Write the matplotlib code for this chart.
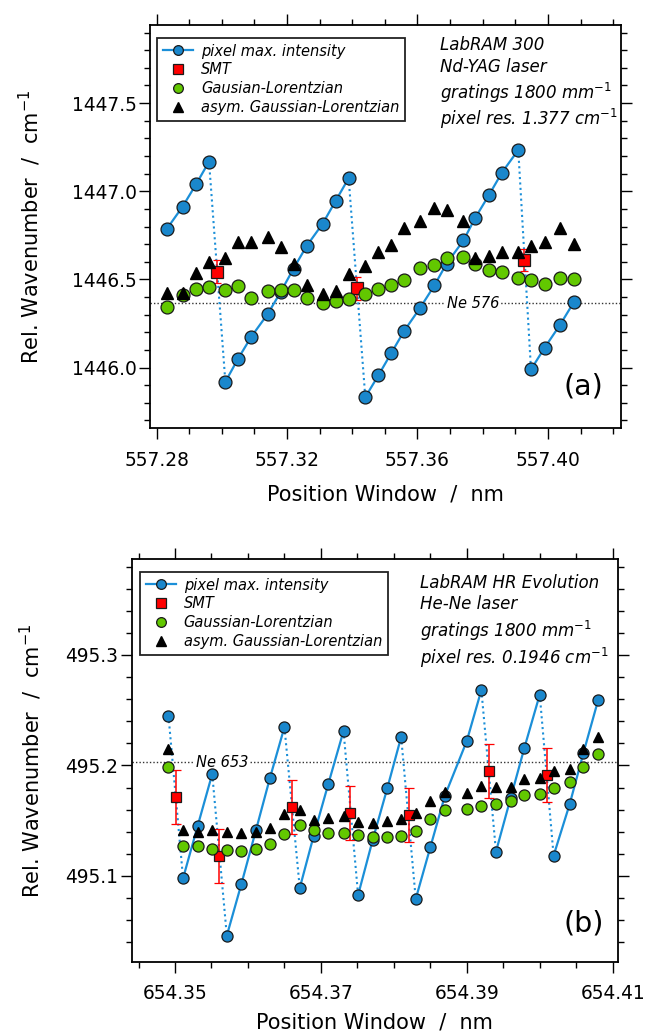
import numpy as np
import matplotlib
matplotlib.use('Agg')
import matplotlib.pyplot as plt
from matplotlib.lines import Line2D
from matplotlib.ticker import MultipleLocator, FixedLocator, FormatStrFormatter

# ---------------- panel (a): LabRAM 300, Nd-YAG ----------------
x_a = [557.2831, 557.2880, 557.2922, 557.2961, 557.3011, 557.3050, 557.3091, 557.3141,
       557.3181, 557.3220, 557.3260, 557.3309, 557.3349, 557.3389, 557.3440, 557.3480,
       557.3520, 557.3560, 557.3608, 557.3652, 557.3689, 557.3741, 557.3777, 557.3819,
       557.3859, 557.3909, 557.3948, 557.3990, 557.4037, 557.4079]
pix_a = [1446.785, 1446.913, 1447.042, 1447.168, 1445.919, 1446.050, 1446.176, 1446.304,
         1446.430, 1446.561, 1446.689, 1446.815, 1446.945, 1447.074, 1445.832, 1445.955,
         1446.083, 1446.210, 1446.338, 1446.466, 1446.589, 1446.721, 1446.849, 1446.978,
         1447.106, 1447.234, 1445.989, 1446.113, 1446.242, 1446.370]
gl_a = [1446.345, 1446.409, 1446.446, 1446.457, 1446.440, 1446.463, 1446.396, 1446.432,
        1446.438, 1446.440, 1446.392, 1446.364, 1446.379, 1446.387, 1446.419, 1446.447,
        1446.466, 1446.498, 1446.566, 1446.579, 1446.623, 1446.627, 1446.587, 1446.555,
        1446.540, 1446.510, 1446.498, 1446.474, 1446.510, 1446.504]
asym_a = [1446.421, 1446.423, 1446.536, 1446.598, 1446.619, 1446.712, 1446.712, 1446.743,
          1446.681, 1446.589, 1446.466, 1446.419, 1446.432, 1446.528, 1446.578, 1446.653,
          1446.695, 1446.794, 1446.834, 1446.906, 1446.894, 1446.832, 1446.621, 1446.630,
          1446.655, 1446.655, 1446.691, 1446.712, 1446.789, 1446.702]
smt_x_a = [557.2985, 557.3415, 557.3928]
smt_a = [1446.544, 1446.449, 1446.611]
smt_err_a = [0.065, 0.064, 0.063]
ne_a = 1446.364
ne_lab_x_a = 557.377
xticks_a = [557.28, 557.32, 557.36, 557.40]
text_a = ['LabRAM 300', 'Nd-YAG laser', r'gratings 1800 mm$^{\mathit{-1}}$',
          r'pixel res. 1.377 cm$^{\mathit{-1}}$']
legend_a = ['pixel max. intensity', 'SMT', 'Gausian-Lorentzian', 'asym. Gaussian-Lorentzian']

# ---------------- panel (b): LabRAM HR Evolution, He-Ne ----------------
x_b = [654.3491, 654.3511, 654.3531, 654.3551, 654.3571, 654.3591, 654.3611, 654.3630,
       654.3650, 654.3671, 654.3690, 654.3710, 654.3731, 654.3751, 654.3771, 654.3791,
       654.3810, 654.3830, 654.3850, 654.3870, 654.3900, 654.3920, 654.3940, 654.3960,
       654.3979, 654.4000, 654.4019, 654.4041, 654.4060, 654.4080]
pix_b = [495.2451, 495.0979, 495.1452, 495.1923, 495.0460, 495.0928, 495.1416, 495.1884,
         495.2348, 495.0891, 495.1362, 495.1830, 495.2312, 495.0828, 495.1326, 495.1794,
         495.2258, 495.0792, 495.1260, 495.1727, 495.2222, 495.2683, 495.1220, 495.1703,
         495.2161, 495.2641, 495.1184, 495.1649, 495.2116, 495.2590]
gl_b = [495.1984, 495.1274, 495.1269, 495.1247, 495.1235, 495.1226, 495.1247, 495.1290,
        495.1383, 495.1464, 495.1414, 495.1392, 495.1389, 495.1368, 495.1357, 495.1353,
        495.1365, 495.1407, 495.1513, 495.1597, 495.1606, 495.1636, 495.1649, 495.1681,
        495.1733, 495.1742, 495.1799, 495.1853, 495.1989, 495.2107]
asym_b = [495.2147, 495.1416, 495.1395, 495.1414, 495.1395, 495.1392, 495.1401, 495.1432,
          495.1558, 495.1597, 495.1510, 495.1528, 495.1543, 495.1491, 495.1482, 495.1500,
          495.1519, 495.1573, 495.1679, 495.1757, 495.1754, 495.1814, 495.1803, 495.1808,
          495.1881, 495.1890, 495.1953, 495.1968, 495.2152, 495.2255]
smt_x_b = [654.3501, 654.3560, 654.3661, 654.3740, 654.3821, 654.3931, 654.4010]
smt_b = [495.1718, 495.1184, 495.1622, 495.1567, 495.1552, 495.1953, 495.1911]
smt_err_b = [0.0245, 0.0245, 0.0245, 0.0245, 0.0245, 0.0245, 0.0245]
ne_b = 495.2029
ne_lab_x_b = 654.3565
xticks_b = [654.35, 654.37, 654.39, 654.41]
text_b = ['LabRAM HR Evolution', 'He-Ne laser', r'gratings 1800 mm$^{\mathit{-1}}$',
          r'pixel res. 0.1946 cm$^{\mathit{-1}}$']
legend_b = ['pixel max. intensity', 'SMT', 'Gaussian-Lorentzian', 'asym. Gaussian-Lorentzian']

# colours
c_blue = '#1a87cc'
c_blue_line = '#1b8fd8'
c_green = '#62c800'
c_red = '#ff0000'
c_edge = '#1a1a1a'

plt.rcParams['font.family'] = ['DejaVu Sans']
plt.rcParams['mathtext.fontset'] = 'dejavusans'


def draw_panel(ax, x, pix, gl, asym, sx, sy, serr, ne, ne_x, ne_lab, ms, tri_ms, sq_ms, cap):
    x = np.array(x)
    pix = np.array(pix)
    # split the pixel-max series into rising ramps, drops are drawn dotted
    brk = np.where(np.diff(pix) < 0)[0]
    starts = np.concatenate(([0], brk + 1))
    ends = np.concatenate((brk + 1, [len(pix)]))
    for s, e in zip(starts, ends):
        ax.plot(x[s:e], pix[s:e], '-', color=c_blue_line, lw=1.6, zorder=2)
    for b in brk:
        ax.plot(x[b:b + 2], pix[b:b + 2], color=c_blue_line, lw=1.5,
                ls=(0, (1, 1.6)), zorder=2)
    ax.plot(x, pix, 'o', ls='none', mfc=c_blue, mec=c_edge, mew=0.9, ms=ms, zorder=3)
    ax.errorbar(sx, sy, yerr=serr, fmt='s', mfc=c_red, mec=c_edge, mew=0.9, ms=sq_ms,
                ecolor=c_red, elinewidth=1.1, capsize=cap, capthick=1.1, zorder=4)
    ax.plot(x, gl, 'o', ls='none', mfc=c_green, mec=c_edge, mew=0.9, ms=ms, zorder=5)
    ax.plot(x, asym, '^', ls='none', color='black', ms=tri_ms, zorder=6)
    ax.axhline(ne, color='#333333', lw=1.0, ls=(0, (1, 1.5)), zorder=1)
    ax.text(ne_x, ne, ne_lab, ha='center', va='center', style='italic', fontsize=10.5,
            bbox=dict(fc='white', ec='none', pad=1.0), zorder=1.5)


def style_axes(ax, xticks, xmin, ymaj, ymin, xfmt, yfmt):
    ax.xaxis.set_major_locator(FixedLocator(xticks))
    ax.xaxis.set_minor_locator(MultipleLocator(xmin))
    ax.yaxis.set_major_locator(MultipleLocator(ymaj))
    ax.yaxis.set_minor_locator(MultipleLocator(ymin))
    ax.xaxis.set_major_formatter(FormatStrFormatter(xfmt))
    ax.yaxis.set_major_formatter(FormatStrFormatter(yfmt))
    ax.tick_params(which='both', direction='out', top=True, right=True, width=1.0,
                   labelsize=13.4, colors='black')
    ax.tick_params(which='major', length=8)
    ax.tick_params(which='minor', length=4)
    ax.tick_params(axis='x', which='major', pad=8.5)
    ax.tick_params(axis='y', which='major', pad=1.5)
    for sp in ax.spines.values():
        sp.set_linewidth(1.3)


def add_legend(ax, labels, anchor, ms):
    handles = [
        Line2D([], [], color=c_blue_line, lw=1.6, marker='o', mfc=c_blue, mec=c_edge, mew=0.9, ms=ms),
        Line2D([], [], ls='none', marker='s', mfc=c_red, mec=c_edge, mew=0.9, ms=ms - 0.5),
        Line2D([], [], ls='none', marker='o', mfc=c_green, mec=c_edge, mew=0.9, ms=ms),
        Line2D([], [], ls='none', marker='^', color='black', ms=ms),
    ]
    leg = ax.legend(handles, labels, loc='upper left', bbox_to_anchor=anchor, borderaxespad=0,
                    frameon=True, fancybox=False, framealpha=1, edgecolor='#222222',
                    handlelength=2.05, handletextpad=0.55, labelspacing=0.26, borderpad=0.4,
                    prop={'style': 'italic', 'size': 10.5})
    leg.get_frame().set_linewidth(1.3)
    leg.set_zorder(10)


fig = plt.figure(figsize=(6.46, 10.34), dpi=100)

# ---- top panel ----
ax1 = fig.add_axes([150 / 646, 1 - 428 / 1034, 470.7 / 646, 403 / 1034])
draw_panel(ax1, x_a, pix_a, gl_a, asym_a, smt_x_a, smt_a, smt_err_a, ne_a, ne_lab_x_a,
           'Ne 576', ms=9.3, tri_ms=8, sq_ms=8.5, cap=3)
ax1.set_xlim(557.278, 557.4223)
ax1.set_ylim(1445.657, 1447.943)
style_axes(ax1, xticks_a, 0.01, 0.5, 0.1, '%.2f', '%.1f')
ax1.set_xlabel('Position Window  /  nm', fontsize=15)
ax1.set_ylabel('Rel. Wavenumber  /  cm$^{-1}$', fontsize=15)
ax1.xaxis.set_label_coords(0.5, -0.14)
ax1.yaxis.set_label_coords(-0.227, 0.5)
add_legend(ax1, legend_a, (0.0155, 0.9685), 7)
for t, yy in zip(text_a, [0.938, 0.884, 0.8156, 0.752]):
    ax1.text(0.616, yy, t, transform=ax1.transAxes, style='italic', fontsize=12,
             ha='left', va='baseline')
ax1.text(0.92, 0.102, '(a)', transform=ax1.transAxes, fontsize=20.5, ha='center', va='center')

# ---- bottom panel ----
ax2 = fig.add_axes([131.7 / 646, 1 - 961.5 / 1034, 486.3 / 646, 402.2 / 1034])
draw_panel(ax2, x_b, pix_b, gl_b, asym_b, smt_x_b, smt_b, smt_err_b, ne_b, ne_lab_x_b,
           'Ne 653', ms=8.0, tri_ms=7, sq_ms=7.5, cap=3.8)
ax2.set_xlim(654.34406, 654.41073)
ax2.set_ylim(495.0226, 495.3866)
style_axes(ax2, xticks_b, 0.005, 0.1, 0.02, '%.2f', '%.1f')
ax2.set_xlabel('Position Window  /  nm', fontsize=15)
ax2.set_ylabel('Rel. Wavenumber  /  cm$^{-1}$', fontsize=15)
ax2.xaxis.set_label_coords(0.5, -0.127)
ax2.yaxis.set_label_coords(-0.1795, 0.5)
add_legend(ax2, legend_b, (0.017, 0.969), 7)
for t, yy in zip(text_b, [0.929, 0.8755, 0.807, 0.739]):
    ax2.text(0.593, yy, t, transform=ax2.transAxes, style='italic', fontsize=12,
             ha='left', va='baseline')
ax2.text(0.929, 0.094, '(b)', transform=ax2.transAxes, fontsize=20.5, ha='center', va='center')

fig.savefig('out.png', dpi=100)
